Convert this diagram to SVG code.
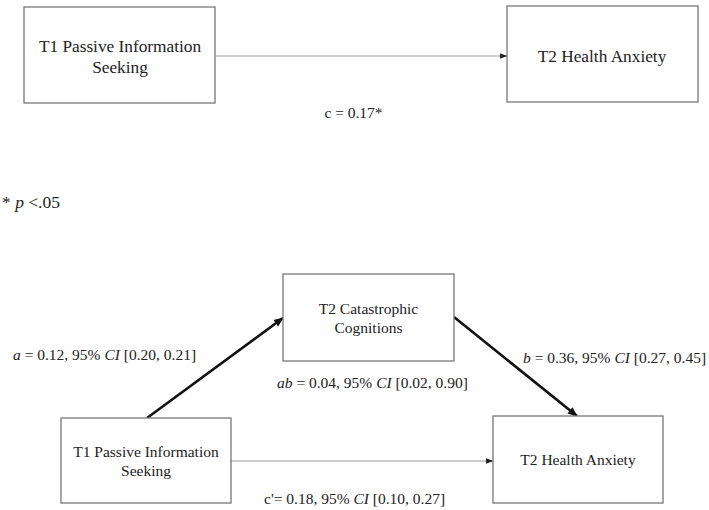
<svg xmlns="http://www.w3.org/2000/svg" width="709" height="510" viewBox="0 0 709 510">
<defs>
<marker id="ah" markerUnits="userSpaceOnUse" markerWidth="8" markerHeight="8" viewBox="0 0 8 8" refX="7.5" refY="4" orient="auto"><path d="M0,1 L8,4 L0,7 z" fill="#222"/></marker>
<marker id="ahb" markerUnits="userSpaceOnUse" markerWidth="10" markerHeight="10" viewBox="0 0 10 10" refX="9" refY="5" orient="auto"><path d="M0,1 L10,5 L0,9 z" fill="#111"/></marker>
</defs>
<style>
.box{fill:#fff;stroke:#777;stroke-width:1.3}
.t{font-family:"Liberation Serif","Times New Roman",serif;fill:#222}
.big{font-size:17.3px}
.sm{font-size:15.5px}
.thin{stroke:#999;stroke-width:1.1;fill:none}
.thick{stroke:#111;stroke-width:2.6;fill:none}
</style>
<rect width="709" height="510" fill="#fff"/>
<g id="connectors">
<line class="thin" x1="215.5" y1="56" x2="507" y2="56" marker-end="url(#ah)"/>
<line class="thin" x1="231" y1="461" x2="493" y2="461" marker-end="url(#ah)"/>
<line class="thick" x1="147" y1="418" x2="283" y2="318" marker-end="url(#ahb)"/>
<line class="thick" x1="454" y1="317" x2="577" y2="416" stroke-width="2.2" marker-end="url(#ahb)"/>
</g>
<g id="top-t1">
<rect class="box" x="24" y="7" width="191" height="96"/>
<text class="t big" text-anchor="middle" x="120" y="52">T1 Passive Information</text>
<text class="t big" text-anchor="middle" x="120" y="73">Seeking</text>
</g>
<g id="top-t2">
<rect class="box" x="507" y="6" width="191" height="96"/>
<text class="t big" text-anchor="middle" x="602" y="62">T2 Health Anxiety</text>
</g>
<g id="labels">
<text class="t sm" text-anchor="middle" x="353.5" y="118">c = 0.17*</text>
<text class="t" font-size="17.5" x="2" y="208">* <tspan font-style="italic">p</tspan> &lt;.05</text>
<text class="t sm" x="13" y="360"><tspan font-style="italic">a</tspan> = 0.12, 95% <tspan font-style="italic">CI</tspan> [0.20, 0.21]</text>
<text class="t sm" x="523" y="363"><tspan font-style="italic">b</tspan> = 0.36, 95% <tspan font-style="italic">CI</tspan> [0.27, 0.45]</text>
<text class="t sm" x="277" y="388"><tspan font-style="italic">ab</tspan> = 0.04, 95% <tspan font-style="italic">CI</tspan> [0.02, 0.90]</text>
<text class="t sm" x="264" y="504">c'= 0.18, 95% <tspan font-style="italic">CI</tspan> [0.10, 0.27]</text>
</g>
<g id="mediator">
<rect class="box" x="283" y="274" width="171" height="87"/>
<text class="t sm" text-anchor="middle" x="368.5" y="314">T2 Catastrophic</text>
<text class="t sm" text-anchor="middle" x="368.5" y="333">Cognitions</text>
</g>
<g id="bottom-t1">
<rect class="box" x="61" y="418" width="170" height="85"/>
<text class="t sm" text-anchor="middle" x="146" y="457">T1 Passive Information</text>
<text class="t sm" text-anchor="middle" x="146" y="476">Seeking</text>
</g>
<g id="bottom-t2">
<rect class="box" x="493" y="416" width="170" height="87"/>
<text class="t sm" text-anchor="middle" x="578" y="465">T2 Health Anxiety</text>
</g>
</svg>
